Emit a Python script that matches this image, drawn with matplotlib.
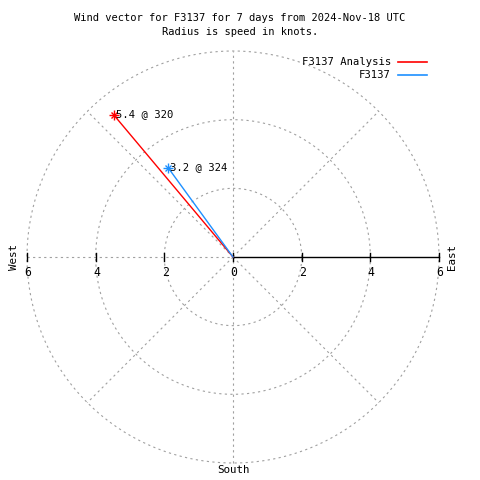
import numpy as np
import matplotlib
matplotlib.use("Agg")
import matplotlib.pyplot as plt

# wind vectors: speed (knots) and direction (deg, clockwise from north)
series_names = ["F3137 Analysis", "F3137"]
speeds = [5.4, 3.2]
directions = [320, 324]
colors = ["#ff0000", "#1e90ff"]

rings = [2, 4, 6]
tick_vals = [-6, -4, -2, 0, 2, 4, 6]
tick_labels = ["6", "4", "2", "0", "2", "4", "6"]

title = "Wind vector for F3137 for 7 days from 2024-Nov-18 UTC\nRadius is speed in knots."
mono = "DejaVu Sans Mono"
fs = 7.3

fig = plt.figure(figsize=(4.8, 4.8), dpi=100)
ax = fig.add_axes([27 / 480, 17 / 480, 412 / 480, 412 / 480])
ax.set_xlim(-6, 6)
ax.set_ylim(-6, 6)
ax.set_aspect("equal")
ax.axis("off")

grid_kw = dict(color="#a0a0a0", lw=0.8, ls=(0, (2, 3)))

# rings
t = np.linspace(0, 2 * np.pi, 400)
for r in rings:
    ax.plot(r * np.cos(t), r * np.sin(t), clip_on=False, **grid_kw)

# spokes
for a in range(45, 360, 90):
    ang = np.radians(a)
    ax.plot([0, 6 * np.cos(ang)], [0, 6 * np.sin(ang)], clip_on=False, **grid_kw)
ax.plot([0, 0], [-6, 6], clip_on=False, **grid_kw)
ax.plot([-6, 0], [0, 0], clip_on=False, **grid_kw)

# east axis (solid) with ticks
ax.plot([0, 6], [0, 0], color="black", lw=1, clip_on=False)
for v, lab in zip(tick_vals, tick_labels):
    ax.plot([v, v], [-0.12, 0.12], color="black", lw=1, clip_on=False)
    ax.text(v + 0.03, -0.27, lab, ha="center", va="top", fontsize=fs + 1, family=mono)

ax.text(-6.38, 0, "West", rotation=90, ha="center", va="center", fontsize=fs + 0.5, family=mono)
ax.text(6.38, 0, "East", rotation=90, ha="center", va="center", fontsize=fs + 0.5, family=mono)
ax.text(0, -6.05, "South", ha="center", va="top", fontsize=fs + 0.5, family=mono)

# vectors
for name, s, d, c in zip(series_names, speeds, directions, colors):
    x = s * np.sin(np.radians(d))
    y = s * np.cos(np.radians(d))
    ax.plot([0, x], [0, y], color=c, lw=1, clip_on=False, label=name)
    ax.plot(x, y, marker="+", color=c, ms=7, mew=1, clip_on=False)
    ax.plot(x, y, marker="x", color=c, ms=5, mew=1, clip_on=False)
    ax.text(x + 0.06, y + 0.02, "%.1f @ %d" % (s, d), ha="left", va="center",
            fontsize=fs + 0.3, family=mono)

fig.text(0.5, 1 - 13 / 480, title, ha="center", va="top", fontsize=fs + 0.2, family=mono,
         linespacing=1.45)

# legend drawn like gnuplot key
for i, (name, c) in enumerate(zip(series_names, colors)):
    yy = 1 - (62 + 13 * i) / 480
    fig.text(391 / 480, yy, name, ha="right", va="center", fontsize=fs + 0.3, family=mono)
    fig.add_artist(plt.Line2D([398 / 480, 427 / 480], [yy, yy], color=c, lw=1.2))

fig.savefig("out.png", dpi=100)
